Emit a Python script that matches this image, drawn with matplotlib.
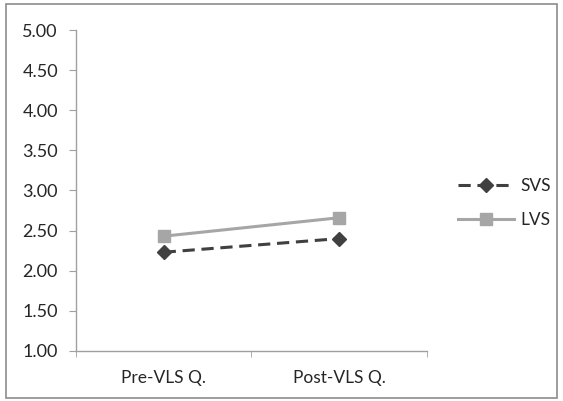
import matplotlib
matplotlib.use("Agg")
import matplotlib.pyplot as plt
from matplotlib.patches import Rectangle

plt.rcParams['font.family'] = ['Lato', 'DejaVu Sans']

categories = ['Pre-VLS Q.', 'Post-VLS Q.']
svs = [2.23, 2.40]
lvs = [2.43, 2.66]
yticks = [1.0, 1.5, 2.0, 2.5, 3.0, 3.5, 4.0, 4.5, 5.0]

text_color = '#262626'
axis_color = '#a0a0a0'

fig = plt.figure(figsize=(5.63, 4.01), dpi=100)
ax = fig.add_axes([0.135, 0.125, 0.623, 0.80])

# outer frame around the whole chart
fig.patches.append(Rectangle((0.011, 0.007), 0.978, 0.982, transform=fig.transFigure,
                             fill=False, edgecolor='#8c8c8c', linewidth=1.2))

x = list(range(len(categories)))
ax.plot(x, svs, color='#404040', linestyle=(0, (4, 2.2)), linewidth=2.2,
        marker='D', markersize=7, label='SVS')
ax.plot(x, lvs, color='#a6a6a6', linewidth=2.2,
        marker='s', markersize=9, label='LVS')

ax.set_ylim(1, 5)
ax.set_xlim(-0.5, 1.5)
ax.set_yticks(yticks)
ax.set_yticklabels([f'{v:.2f}' for v in yticks])
ax.set_xticks(x)
ax.set_xticklabels(categories)
ax.set_xticks([-0.5, 0.5, 1.5], minor=True)
ax.tick_params(axis='x', which='major', length=0, pad=14, labelsize=12.5, colors=text_color)
ax.tick_params(axis='x', which='minor', length=4, color=axis_color)
ax.tick_params(axis='y', length=5, color=axis_color, pad=8, labelsize=13, labelcolor=text_color)

for side in ['top', 'right']:
    ax.spines[side].set_visible(False)
for side in ['left', 'bottom']:
    ax.spines[side].set_color(axis_color)
    ax.spines[side].set_linewidth(1.0)

leg = ax.legend(loc='center left', bbox_to_anchor=(1.045, 0.46), frameon=False,
                handlelength=3.2, labelspacing=1.05, fontsize=12.5, handletextpad=0.4)
for t in leg.get_texts():
    t.set_color(text_color)

fig.savefig('out.png', dpi=100)
